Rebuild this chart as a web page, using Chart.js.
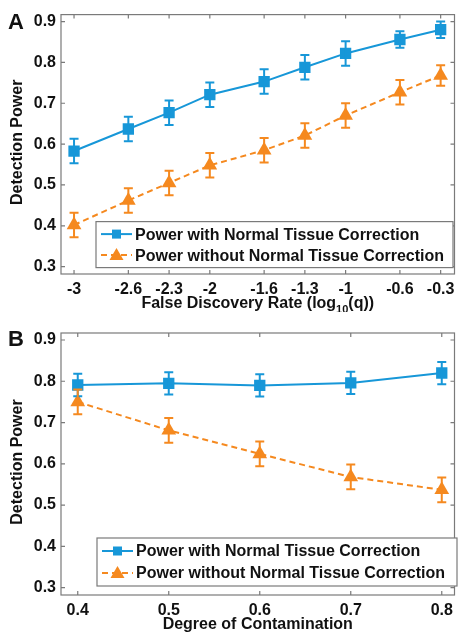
<!DOCTYPE html>
<html><head><meta charset="utf-8">
<script src="https://cdn.jsdelivr.net/npm/chart.js@4.4.0/dist/chart.umd.min.js"></script>
<style>
html,body{margin:0;padding:0;background:#fff;width:463px;height:632px;overflow:hidden;}
.wrap{position:absolute;left:0;width:463px;}
.lbl{position:absolute;font-family:"Liberation Sans",Arial,sans-serif;font-weight:bold;font-size:22px;line-height:22px;color:#111;}
</style></head>
<body>
<div class="wrap" style="top:0;height:312px;"><canvas id="cA" width="463" height="312"></canvas></div>
<div class="wrap" style="top:312px;height:320px;"><canvas id="cB" width="463" height="320"></canvas></div>
<div class="lbl" style="left:8px;top:11px;">A</div>
<div class="lbl" style="left:8px;top:328px;">B</div>
<script>
// ---- Data ----
const fdrLog = [-3, -2.6, -2.3, -2, -1.6, -1.3, -1, -0.6, -0.3];
const fdrLabels = ["-3", "-2.6", "-2.3", "-2", "-1.6", "-1.3", "-1", "-0.6", "-0.3"];
const powerWithA = [0.583, 0.637, 0.677, 0.721, 0.753, 0.788, 0.822, 0.856, 0.880];
const powerWithoutA = [0.402, 0.462, 0.505, 0.548, 0.585, 0.621, 0.670, 0.727, 0.768];
const errWithA = [0.03, 0.03, 0.03, 0.03, 0.03, 0.03, 0.03, 0.02, 0.02];
const errWithoutA = [0.03, 0.03, 0.03, 0.03, 0.03, 0.03, 0.03, 0.03, 0.025];

const contamination = [0.4, 0.5, 0.6, 0.7, 0.8];
const contamLabels = ["0.4", "0.5", "0.6", "0.7", "0.8"];
const powerWithB = [0.791, 0.795, 0.790, 0.796, 0.820];
const powerWithoutB = [0.750, 0.681, 0.624, 0.568, 0.537];
const errWithB = [0.027, 0.027, 0.027, 0.027, 0.027];
const errWithoutB = [0.03, 0.03, 0.03, 0.03, 0.03];

const yTicks = [0.3, 0.4, 0.5, 0.6, 0.7, 0.8, 0.9];
const seriesNames = ["Power with Normal Tissue Correction", "Power without Normal Tissue Correction"];
const yTitle = "Detection Power";
// x titles as [text, isSubscript] parts
const xTitleA = [["False Discovery Rate (log", false], ["10", true], ["(q))", false]];
const xTitleB = [["Degree of Contamination", false]];

const BLUE = "#1797d8", ORANGE = "#f5891f", BOXC = "#7a7a7a", TXT = "#111";
const FONT = "'Liberation Sans', Arial, sans-serif";
const FS = 16;

const errorBarPlugin = {
  id: 'errbars',
  afterDatasetsDraw(chart) {
    const ctx = chart.ctx, y = chart.scales.y;
    chart.data.datasets.forEach((ds, i) => {
      const meta = chart.getDatasetMeta(i);
      ctx.save();
      ctx.strokeStyle = ds.borderColor; ctx.lineWidth = 2;
      meta.data.forEach((pt, j) => {
        const v = ds.data[j].y, e = ds.errs[j];
        const yt = y.getPixelForValue(v + e), yb = y.getPixelForValue(v - e);
        ctx.beginPath();
        ctx.moveTo(pt.x, yt); ctx.lineTo(pt.x, yb);
        ctx.moveTo(pt.x - 4.5, yt); ctx.lineTo(pt.x + 4.5, yt);
        ctx.moveTo(pt.x - 4.5, yb); ctx.lineTo(pt.x + 4.5, yb);
        ctx.stroke();
      });
      ctx.restore();
    });
  }
};

const boxPlugin = {
  id: 'box',
  afterDraw(chart) {
    const ctx = chart.ctx, a = chart.chartArea, xs = chart.scales.x, ys = chart.scales.y;
    ctx.save();
    ctx.strokeStyle = BOXC; ctx.lineWidth = 1.2;
    ctx.strokeRect(a.left, a.top, a.right - a.left, a.bottom - a.top);
    ctx.beginPath();
    xs.ticks.forEach(t => {
      const px = xs.getPixelForValue(t.value);
      ctx.moveTo(px, a.bottom); ctx.lineTo(px, a.bottom - 4);
      ctx.moveTo(px, a.top); ctx.lineTo(px, a.top + 4);
    });
    ys.ticks.forEach(t => {
      const py = ys.getPixelForValue(t.value);
      ctx.moveTo(a.left, py); ctx.lineTo(a.left + 4, py);
      ctx.moveTo(a.right, py); ctx.lineTo(a.right - 4, py);
    });
    ctx.stroke();
    ctx.restore();
  }
};

const titlePlugin = {
  id: 'titles',
  afterDraw(chart, args, opts) {
    const ctx = chart.ctx, a = chart.chartArea;
    ctx.save();
    ctx.fillStyle = TXT;
    ctx.textBaseline = 'middle';
    ctx.save();
    ctx.translate(opts.yTitleX, (a.top + a.bottom) / 2 - 2);
    ctx.rotate(-Math.PI / 2);
    ctx.font = 'bold ' + FS + 'px ' + FONT;
    ctx.textAlign = 'center';
    ctx.fillText(yTitle, 0, 0);
    ctx.restore();
    const parts = opts.xTitle;
    let total = 0;
    parts.forEach(p => { ctx.font = 'bold ' + (p[1] ? 11 : FS) + 'px ' + FONT; total += ctx.measureText(p[0]).width; });
    let x = (a.left + a.right) / 2 - total / 2;
    ctx.textAlign = 'left';
    parts.forEach(p => {
      ctx.font = 'bold ' + (p[1] ? 11 : FS) + 'px ' + FONT;
      ctx.fillText(p[0], x, opts.xTitleY + (p[1] ? 6 : 0));
      x += ctx.measureText(p[0]).width;
    });
    ctx.restore();
  }
};

const legendPlugin = {
  id: 'boxLegend',
  afterDraw(chart, args, opts) {
    const ctx = chart.ctx, a = chart.chartArea;
    const L = opts.box;
    const x0 = a.left + L[0], y0 = a.top + L[1], x1 = a.left + L[2], y1 = a.top + L[3];
    ctx.save();
    ctx.fillStyle = '#fff';
    ctx.fillRect(x0, y0, x1 - x0, y1 - y0);
    ctx.strokeStyle = BOXC; ctx.lineWidth = 1.2;
    ctx.strokeRect(x0, y0, x1 - x0, y1 - y0);
    const rowH = (y1 - y0) / 2;
    chart.data.datasets.forEach((ds, i) => {
      const cy = y0 + rowH * (i + 0.5) + (i === 0 ? 1 : -1);
      ctx.strokeStyle = ds.borderColor; ctx.lineWidth = 2;
      ctx.setLineDash(ds.borderDash || []);
      ctx.beginPath(); ctx.moveTo(x0 + 5, cy); ctx.lineTo(x0 + 36, cy); ctx.stroke();
      ctx.setLineDash([]);
      ctx.fillStyle = ds.borderColor;
      const mx = x0 + 20.5;
      if (ds.pointStyle === 'rect') {
        ctx.fillRect(mx - 4.5, cy - 4.5, 9, 9);
      } else {
        ctx.beginPath();
        ctx.moveTo(mx, cy - 7); ctx.lineTo(mx + 7, cy + 5); ctx.lineTo(mx - 7, cy + 5); ctx.closePath(); ctx.fill();
      }
      ctx.fillStyle = TXT;
      ctx.font = 'bold ' + FS + 'px ' + FONT;
      ctx.textBaseline = 'middle';
      ctx.fillText(ds.label, x0 + 39, cy + 1);
    });
    ctx.restore();
  }
};

function pts(xs, ys) { return xs.map((x, i) => ({ x: x, y: ys[i] })); }

function makeChart(id, xs, xLabels, withV, withE, withoutV, withoutE, xmin, xmax, xTitle, xTitleY, pad, xH, legBox) {
  return new Chart(document.getElementById(id), {
    type: 'line',
    data: {
      datasets: [
        { label: seriesNames[0], data: pts(xs, withV), errs: withE, borderColor: BLUE, backgroundColor: BLUE,
          borderWidth: 2, pointStyle: 'rect', pointRadius: 8, pointBorderWidth: 0, tension: 0 },
        { label: seriesNames[1], data: pts(xs, withoutV), errs: withoutE, borderColor: ORANGE, backgroundColor: ORANGE,
          borderWidth: 2, borderDash: [6, 4], pointStyle: 'triangle', pointRadius: 8.5, pointBorderWidth: 0, tension: 0 }
      ]
    },
    options: {
      responsive: false, animation: false, devicePixelRatio: 1,
      layout: { padding: pad },
      plugins: { legend: { display: false }, tooltip: { enabled: false },
        boxLegend: { box: legBox },
        titles: { xTitle: xTitle, xTitleY: xTitleY, yTitleX: 18 } },
      scales: {
        x: {
          type: 'linear', min: xmin, max: xmax,
          afterBuildTicks: s => { s.ticks = xs.map(v => ({ value: v })); },
          afterFit: s => { s.height = xH; },
          grid: { display: false, drawTicks: false }, border: { display: false },
          ticks: { autoSkip: false, maxRotation: 0, padding: 6, color: TXT,
            font: { family: FONT, weight: 'bold', size: FS },
            callback: (v) => { const k = xs.indexOf(v); return k >= 0 ? xLabels[k] : ''; } }
        },
        y: {
          min: 0.282, max: 0.917,
          afterBuildTicks: s => { s.ticks = yTicks.map(v => ({ value: v })); },
          afterFit: s => { s.width = 61; },
          grid: { display: false, drawTicks: false }, border: { display: false },
          ticks: { padding: 5, color: TXT, font: { family: FONT, weight: 'bold', size: FS },
            callback: v => v.toFixed(1) }
        }
      }
    },
    plugins: [boxPlugin, errorBarPlugin, legendPlugin, titlePlugin]
  });
}

makeChart('cA', fdrLog, fdrLabels, powerWithA, errWithA, powerWithoutA, errWithoutA,
  -3.096, -0.198, xTitleA, 304, { top: 14, right: 2, left: 0, bottom: 0 }, 38,
  [35, 207, 392, 253]);
makeChart('cB', contamination, contamLabels, powerWithB, errWithB, powerWithoutB, errWithoutB,
  0.3816, 0.814, xTitleB, 313, { top: 21, right: 2, left: 0, bottom: 0 }, 37,
  [36, 205, 396, 253]);
</script>
</body></html>
